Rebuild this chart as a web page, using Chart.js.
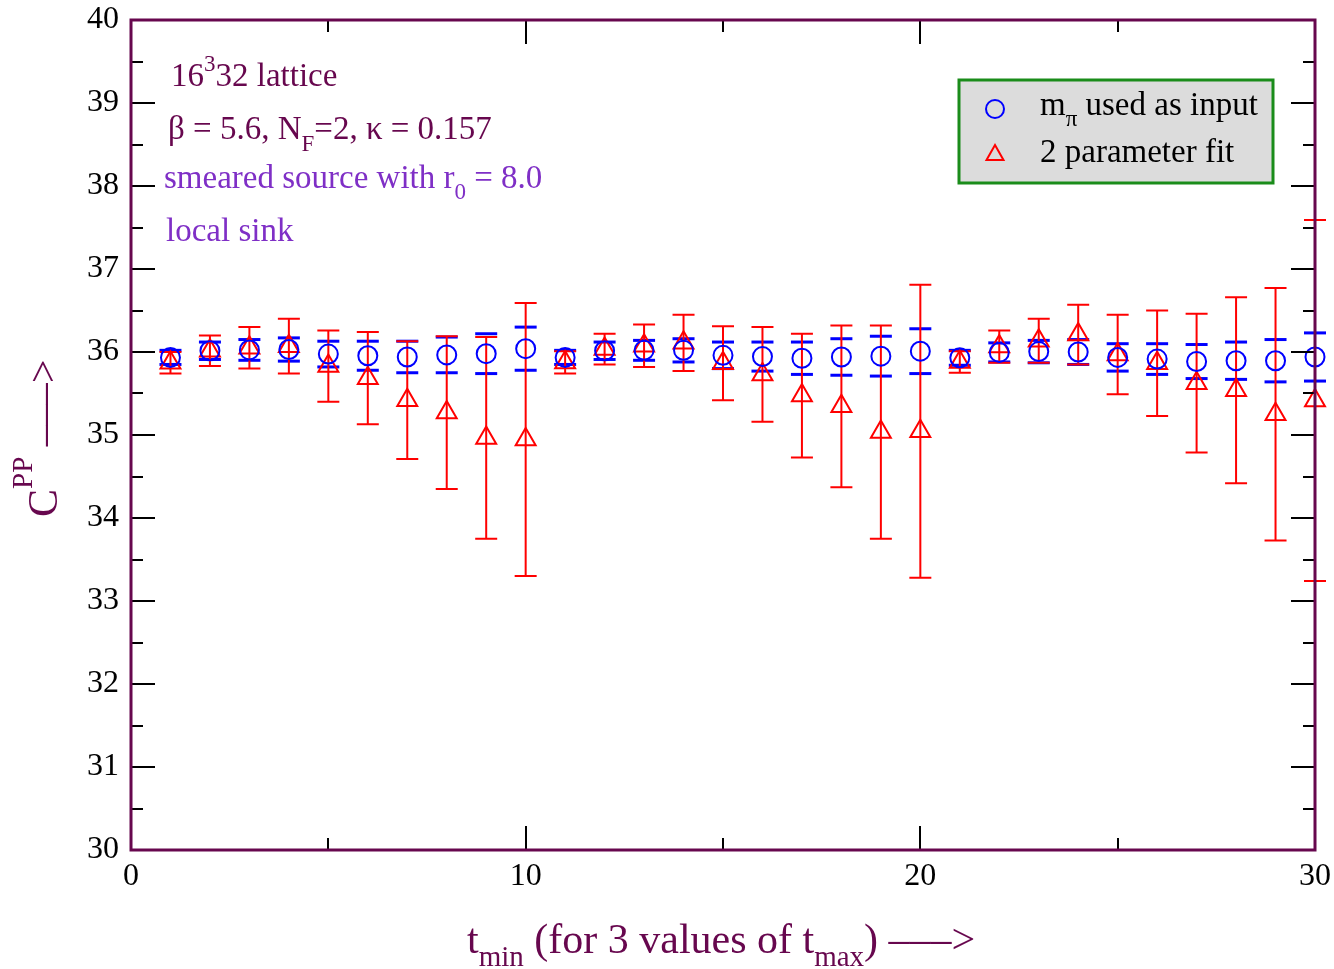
<!DOCTYPE html>
<html>
<head>
<meta charset="utf-8">
<script src="https://cdn.jsdelivr.net/npm/chart.js@4.4.1/dist/chart.umd.min.js"></script>
<style>
  body { margin: 0; background: #fff; }
  #wrap { width: 1334px; height: 969px; }
</style>
</head>
<body>
<div id="wrap"><canvas id="cpp" width="1334" height="969"></canvas></div>
<script>
// t_min values (x axis)
const tmin = [1, 2, 3, 4, 5, 6, 7, 8, 9, 10, 11, 12, 13, 14, 15, 16, 17, 18, 19, 20, 21, 22, 23, 24, 25, 26, 27, 28, 29, 30];

// m_pi used as input (blue circles)
const inputVal = [35.935, 36.015, 36.025, 36.03, 35.975, 35.955, 35.94, 35.965, 35.98, 36.04,
                  35.935, 36.015, 36.02, 36.02, 35.96, 35.945, 35.925, 35.94, 35.95, 36.01,
                  35.93, 35.995, 36.005, 36.0, 35.935, 35.915, 35.885, 35.895, 35.895, 35.94];
const inputErr = [0.085, 0.105, 0.125, 0.14, 0.155, 0.175, 0.19, 0.215, 0.24, 0.26,
                  0.085, 0.105, 0.12, 0.14, 0.16, 0.175, 0.195, 0.22, 0.24, 0.27,
                  0.09, 0.115, 0.135, 0.15, 0.165, 0.185, 0.205, 0.225, 0.255, 0.29];

// 2 parameter fit (red triangles)
const fitVal = [35.87, 36.015, 36.05, 36.07, 35.83, 35.685, 35.42, 35.27, 34.965, 34.945,
                35.875, 36.035, 36.075, 36.11, 35.865, 35.73, 35.475, 35.345, 35.035, 35.045,
                35.88, 36.065, 36.135, 36.21, 35.97, 35.865, 35.625, 35.54, 35.25, 35.415];
const fitErr = [0.13, 0.185, 0.25, 0.33, 0.43, 0.555, 0.71, 0.92, 1.215, 1.645,
                0.135, 0.185, 0.255, 0.34, 0.445, 0.57, 0.745, 0.975, 1.285, 1.765,
                0.13, 0.195, 0.265, 0.36, 0.48, 0.635, 0.835, 1.12, 1.52, 2.175];

const xTicks = [0, 10, 20, 30];
const yTicks = [30, 31, 32, 33, 34, 35, 36, 37, 38, 39, 40];

const MAROON = '#67074e';
const VIOLET = '#7f2fc6';
const SERIF = '"Liberation Serif", "Times New Roman", serif';

// draw a run of text pieces (normal / sub / superscript)
function richText(ctx, x, y, parts, color) {
    ctx.fillStyle = color;
    ctx.textBaseline = 'alphabetic';
    ctx.textAlign = 'left';
    parts.forEach(p => {
        ctx.font = p.s + 'px ' + SERIF;
        ctx.fillText(p.t, x, y + (p.dy || 0));
        x += ctx.measureText(p.t).width;
    });
}

// error bars, drawn under the symbols
const errorBars = {
    id: 'errorBars',
    beforeDatasetsDraw(chart) {
        const {ctx, scales: {x, y}} = chart;
        ctx.save();
        // blue: caps only
        ctx.strokeStyle = '#0000ff';
        ctx.lineWidth = 3;
        tmin.forEach((t, i) => {
            const px = x.getPixelForValue(t);
            [inputVal[i] + inputErr[i], inputVal[i] - inputErr[i]].forEach(v => {
                const py = y.getPixelForValue(v);
                ctx.beginPath();
                ctx.moveTo(px - 11, py);
                ctx.lineTo(px + 11, py);
                ctx.stroke();
            });
        });
        // red: line + caps
        ctx.strokeStyle = '#ff0000';
        ctx.lineWidth = 2;
        tmin.forEach((t, i) => {
            const px = x.getPixelForValue(t);
            const top = y.getPixelForValue(fitVal[i] + fitErr[i]);
            const bot = y.getPixelForValue(fitVal[i] - fitErr[i]);
            ctx.beginPath();
            ctx.moveTo(px, top);
            ctx.lineTo(px, bot);
            ctx.moveTo(px - 11, top);
            ctx.lineTo(px + 11, top);
            ctx.moveTo(px - 11, bot);
            ctx.lineTo(px + 11, bot);
            ctx.stroke();
        });
        ctx.restore();
    }
};

// frame, inward ticks, labels, legend box
const decorations = {
    id: 'decorations',
    afterDatasetsDraw(chart) {
        const {ctx, chartArea: a, scales: {x, y}} = chart;
        ctx.save();
        ctx.strokeStyle = '#000';
        ctx.lineWidth = 2;
        ctx.beginPath();
        for (let v = 30; v <= 40.001; v += 0.5) {
            const py = Math.round(y.getPixelForValue(v));
            const len = Number.isInteger(v) ? 24 : 12;
            ctx.moveTo(a.left, py); ctx.lineTo(a.left + len, py);
            ctx.moveTo(a.right, py); ctx.lineTo(a.right - len, py);
        }
        for (let v = 0; v <= 30; v += 5) {
            const px = Math.round(x.getPixelForValue(v));
            const len = v % 10 === 0 ? 24 : 12;
            ctx.moveTo(px, a.bottom); ctx.lineTo(px, a.bottom - len);
            ctx.moveTo(px, a.top); ctx.lineTo(px, a.top + len);
        }
        ctx.stroke();

        ctx.strokeStyle = MAROON;
        ctx.lineWidth = 3;
        ctx.strokeRect(a.left, a.top, a.right - a.left, a.bottom - a.top);
        ctx.restore();
    },
    afterDraw(chart) {
        const {ctx} = chart;
        ctx.save();

        // annotations
        richText(ctx, 171, 86, [{t: '16', s: 33}, {t: '3', s: 23, dy: -15}, {t: '32 lattice', s: 33}], MAROON);
        richText(ctx, 168, 139, [{t: 'β = 5.6, N', s: 33}, {t: 'F', s: 23, dy: 12}, {t: '=2, κ = 0.157', s: 33}], MAROON);
        richText(ctx, 164, 188, [{t: 'smeared source with r', s: 33}, {t: '0', s: 23, dy: 11}, {t: ' = 8.0', s: 33}], VIOLET);
        richText(ctx, 166, 241, [{t: 'local sink', s: 33}], VIOLET);

        // legend
        ctx.fillStyle = '#dcdcdc';
        ctx.fillRect(959, 80, 314, 103);
        ctx.strokeStyle = '#1a8c1a';
        ctx.lineWidth = 3;
        ctx.strokeRect(959, 80, 314, 103);
        ctx.lineWidth = 2;
        ctx.strokeStyle = '#0000ff';
        ctx.beginPath();
        ctx.arc(995, 109, 9, 0, Math.PI * 2);
        ctx.stroke();
        ctx.strokeStyle = '#ff0000';
        ctx.beginPath();
        ctx.moveTo(995, 145);
        ctx.lineTo(1003.5, 160);
        ctx.lineTo(986.5, 160);
        ctx.closePath();
        ctx.stroke();
        richText(ctx, 1040, 115, [{t: 'm', s: 33}, {t: 'π', s: 23, dy: 11}, {t: ' used as input', s: 33}], '#000');
        richText(ctx, 1040, 162, [{t: '2 parameter fit', s: 33}], '#000');

        // axis titles
        richText(ctx, 467, 953, [{t: 't', s: 42}, {t: 'min', s: 29, dy: 13}, {t: ' (for 3 values of t', s: 42},
            {t: 'max', s: 29, dy: 13}, {t: ') –––>', s: 42}], MAROON);
        ctx.translate(57, 517);
        ctx.rotate(-Math.PI / 2);
        richText(ctx, 0, 0, [{t: 'C', s: 42}, {t: 'PP', s: 29, dy: -25}, {t: ' –––>', s: 42}], MAROON);
        ctx.restore();
    }
};

const chart = new Chart(document.getElementById('cpp'), {
    type: 'scatter',
    data: {
        datasets: [{
            label: 'm_pi used as input',
            data: tmin.map((t, i) => ({x: t, y: inputVal[i]})),
            pointStyle: 'circle',
            pointRadius: 9.5,
            borderWidth: 2,
            borderColor: '#0000ff',
            backgroundColor: 'rgba(0,0,0,0)',
            clip: false
        }, {
            label: '2 parameter fit',
            data: tmin.map((t, i) => ({x: t, y: fitVal[i]})),
            pointStyle: 'triangle',
            pointRadius: 11.5,
            borderWidth: 2,
            borderColor: '#ff0000',
            backgroundColor: 'rgba(0,0,0,0)',
            clip: false
        }]
    },
    options: {
        responsive: false,
        animation: false,
        layout: {padding: {top: 20, right: 19, left: 0, bottom: 0}},
        plugins: {legend: {display: false}, tooltip: {enabled: false}},
        scales: {
            // label gap comes from tickLength (ticks.padding would also push the plot box in)
            x: {
                type: 'linear', min: 0, max: 30,
                grid: {display: false, drawTicks: true, tickLength: 7},
                border: {display: false},
                ticks: {
                    stepSize: 10, maxRotation: 0, padding: 0, color: '#000',
                    font: {family: SERIF, size: 32},
                    callback: v => xTicks.includes(v) ? String(v) : ''
                },
                afterFit: s => { s.height = 119; }
            },
            y: {
                min: 30, max: 40,
                grid: {display: false, drawTicks: true, tickLength: 12},
                border: {display: false},
                ticks: {
                    stepSize: 1, padding: 0, color: '#000',
                    font: {family: SERIF, size: 32},
                    callback: v => yTicks.includes(v) ? String(v) : ''
                },
                afterFit: s => { s.width = 131; }
            }
        }
    },
    plugins: [errorBars, decorations]
});
</script>
</body>
</html>
